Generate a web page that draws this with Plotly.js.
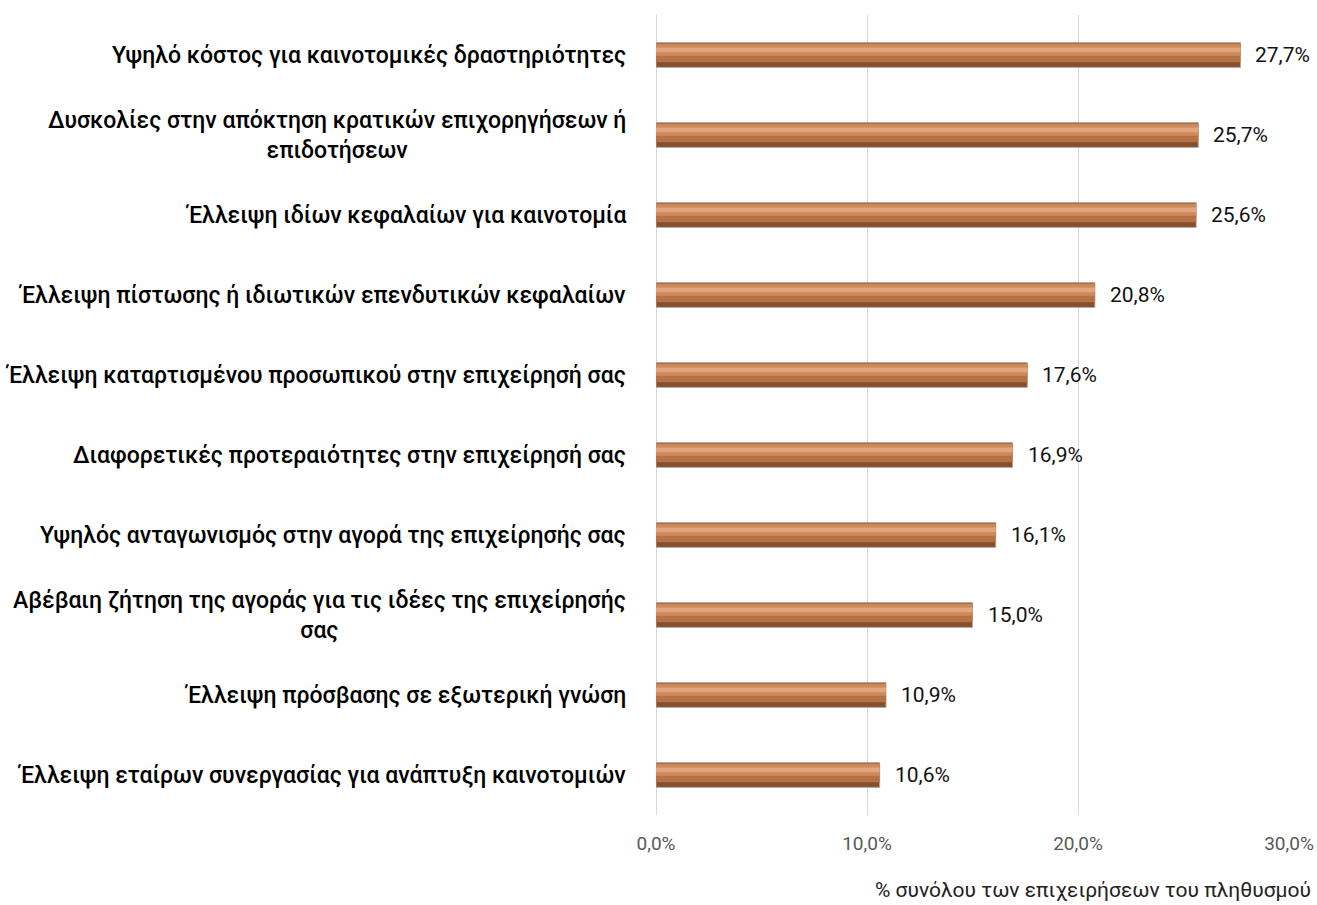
<!DOCTYPE html>
<html><head><meta charset="utf-8">
<script src="https://cdn.plot.ly/plotly-3.0.1.min.js"></script>
<style>html,body{margin:0;padding:0;background:#fff}#chart{width:1317px;height:905px}</style>
</head><body><div id="chart"></div>
<script>
const categories = [
  "Υψηλό κόστος για καινοτομικές δραστηριότητες",
  "Δυσκολίες στην απόκτηση κρατικών επιχορηγήσεων ή<br>επιδοτήσεων",
  "Έλλειψη ιδίων κεφαλαίων για καινοτομία",
  "Έλλειψη πίστωσης ή ιδιωτικών επενδυτικών κεφαλαίων",
  "Έλλειψη καταρτισμένου προσωπικού στην επιχείρησή σας",
  "Διαφορετικές προτεραιότητες στην επιχείρησή σας",
  "Υψηλός ανταγωνισμός στην αγορά της επιχείρησής σας",
  "Αβέβαιη ζήτηση της αγοράς για τις ιδέες της επιχείρησής<br>σας",
  "Έλλειψη πρόσβασης σε εξωτερική γνώση",
  "Έλλειψη εταίρων συνεργασίας για ανάπτυξη καινοτομιών"
];
const values = [27.7, 25.7, 25.6, 20.8, 17.6, 16.9, 16.1, 15.0, 10.9, 10.6];
const tickValues = [0, 10, 20, 30];
const tickLabels = ["0,0%", "10,0%", "20,0%", "30,0%"];
const axisTitle = "% συνόλου των επιχειρήσεων του πληθυσμού";

const FONT = "Roboto, 'Noto Sans', sans-serif";
const ycat = categories.map((c, i) => i);
const fmt = v => v.toFixed(1).replace('.', ',') + '%';

const traces = [
  {type:'bar', orientation:'h', x: values, y: ycat, width:0.31, offset:-0.155,
   marker:{color:'#854f2c', line:{color:'#b3aaa3', width:1}}, hoverinfo:'x'},
  {type:'bar', orientation:'h', x: values, y: ycat, width:0.235, offset:-0.145,
   marker:{color:'#b67244', line:{width:0}}, hoverinfo:'skip'},
  {type:'bar', orientation:'h', x: values, y: ycat, width:0.15, offset:-0.14,
   marker:{color:'#cb8a5c', line:{width:0}}, hoverinfo:'skip'},
  {type:'bar', orientation:'h', x: values, y: ycat, width:0.06, offset:-0.095,
   marker:{color:'#e3a67c', line:{width:0}}, hoverinfo:'skip'}
];

const annotations = categories.map((c, i) => ({
  xref:'paper', yref:'y', x:-0.044, y:i, xanchor:'right', yanchor:'middle',
  align:'center', text:c, showarrow:false,
  font:{family:FONT, size:23, color:'#000', weight:500}
}));
values.forEach((v, i) => annotations.push({
  xref:'x', yref:'y', x:v, y:i, xanchor:'left', yanchor:'middle', xshift:13,
  text: fmt(v), showarrow:false, font:{family:FONT, size:21, color:'#111'}
}));
annotations.push({xref:'paper', yref:'paper', x:1.038, y:-0.094, xanchor:'right', yanchor:'middle',
  text: axisTitle, showarrow:false, font:{family:FONT, size:21, color:'#222'}});

const layout = {
  width:1317, height:905,
  margin:{l:656, r:28, t:15, b:90},
  paper_bgcolor:'#fff', plot_bgcolor:'#fff',
  barmode:'overlay', showlegend:false,
  xaxis:{range:[0,30], tickvals:tickValues, ticktext:tickLabels,
    showgrid:true, gridcolor:'#d9d9d9', gridwidth:1, zeroline:true, zerolinecolor:'#d9d9d9',
    showline:false, ticks:'', tickfont:{family:FONT, size:19, color:'#595959'}, ticklabelstandoff:15},
  yaxis:{range:[9.5,-0.5], showticklabels:false, showgrid:false, zeroline:false, ticks:''},
  annotations: annotations
};
Plotly.newPlot('chart', traces, layout, {displayModeBar:false, staticPlot:true});
</script></body></html>
